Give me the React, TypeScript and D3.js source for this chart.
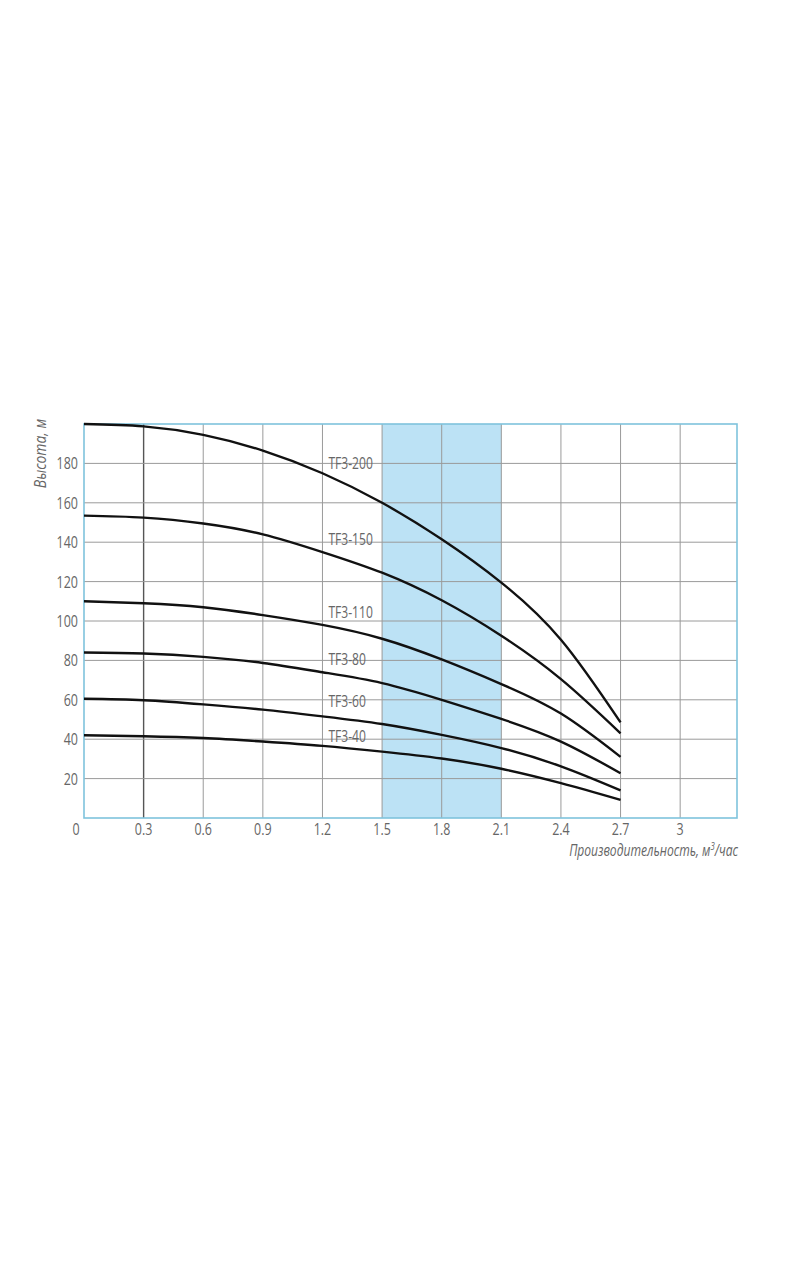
import React, { useEffect, useRef } from 'react';
import * as d3 from 'd3';

const flow = [0, 0.3, 0.6, 0.9, 1.2, 1.5, 1.8, 2.1, 2.4, 2.7];
const seriesNames = ['TF3-200', 'TF3-150', 'TF3-110', 'TF3-80', 'TF3-60', 'TF3-40'];
const head200 = [200, 198.8, 194.5, 186.5, 175, 160, 141.5, 119.5, 90.5, 48.5];
const head150 = [153.5, 152.5, 149.5, 144, 135, 124.5, 110.5, 92.5, 70.5, 43];
const head110 = [110, 109, 107, 103, 98, 91, 80.5, 68, 53, 31];
const head80 = [84, 83.5, 81.8, 78.7, 74, 68.5, 60, 50.3, 38.8, 22.7];
const head60 = [60.5, 59.8, 57.7, 55, 51.6, 47.7, 42.2, 35.5, 26.2, 14];
const head40 = [42, 41.5, 40.6, 38.8, 36.6, 33.7, 30.2, 25, 17.7, 9.2];
const labelX = 1.23;
const labelY = [180, 141.5, 104.3, 80.4, 59, 41.2];
const xTicks = [0, 0.3, 0.6, 0.9, 1.2, 1.5, 1.8, 2.1, 2.4, 2.7, 3];
const xTickLabels = ['0', '0.3', '0.6', '0.9', '1.2', '1.5', '1.8', '2.1', '2.4', '2.7', '3'];
const yTicks = [20, 40, 60, 80, 100, 120, 140, 160, 180];
const band = [1.5, 2.1];

const FONT = "'Open Sans', sans-serif";
const SQUEEZE = 0.78; // narrow the glyphs, the original uses a condensed face

const PumpChart = () => {
  const svgRef = useRef<SVGSVGElement | null>(null);

  useEffect(() => {
    const svg = d3.select(svgRef.current);
    svg.selectAll('*').remove();

    const margin = { top: 424, left: 84 };
    const width = 653;
    const height = 394;

    const g = svg.append('g').attr('transform', `translate(${margin.left},${margin.top})`);

    const x = d3.scaleLinear().domain([0, 3.286]).range([0, width]);
    const y = d3.scaleLinear().domain([0, 200]).range([height, 0]);

    const place = (px: number, py: number) => `translate(${px},${py}) scale(${SQUEEZE},1)`;

    // shaded working range
    g.append('rect')
      .attr('x', x(band[0]))
      .attr('y', 0)
      .attr('width', x(band[1]) - x(band[0]))
      .attr('height', height)
      .attr('fill', '#bce2f5');

    // grid
    g.selectAll('.vgrid')
      .data(xTicks.slice(1))
      .enter()
      .append('line')
      .attr('x1', d => x(d))
      .attr('x2', d => x(d))
      .attr('y1', 0)
      .attr('y2', height)
      .attr('stroke', (d, i) => (i === 0 ? '#555' : '#9a9a9a'))
      .attr('stroke-width', (d, i) => (i === 0 ? 1.4 : 1));

    g.selectAll('.hgrid')
      .data(yTicks)
      .enter()
      .append('line')
      .attr('x1', 0)
      .attr('x2', width)
      .attr('y1', d => y(d))
      .attr('y2', d => y(d))
      .attr('stroke', '#9a9a9a')
      .attr('stroke-width', 1);

    // frame
    g.append('rect')
      .attr('width', width)
      .attr('height', height)
      .attr('fill', 'none')
      .attr('stroke', '#7fc3dc')
      .attr('stroke-width', 1.6);

    // tick labels
    g.selectAll('.ytick')
      .data(yTicks)
      .enter()
      .append('text')
      .attr('transform', d => place(-6, y(d) + 6))
      .attr('text-anchor', 'end')
      .attr('font-family', FONT)
      .attr('font-size', 16)
      .attr('fill', '#666')
      .text(d => d);

    g.selectAll('.xtick')
      .data(xTicks)
      .enter()
      .append('text')
      .attr('transform', (d, i) => place(x(d) - (i === 0 ? 8 : 0), height + 17))
      .attr('text-anchor', 'middle')
      .attr('font-family', FONT)
      .attr('font-size', 16)
      .attr('fill', '#666')
      .text((d, i) => xTickLabels[i]);

    // axis titles
    g.append('text')
      .attr('transform', `translate(-38,${y(185)}) rotate(-90) scale(0.9,1)`)
      .attr('text-anchor', 'middle')
      .attr('font-family', FONT)
      .attr('font-style', 'italic')
      .attr('font-size', 15.5)
      .attr('fill', '#666')
      .text('Высота, м');

    const xt = g.append('text')
      .attr('transform', place(width + 1, height + 38))
      .attr('text-anchor', 'end')
      .attr('font-family', FONT)
      .attr('font-style', 'italic')
      .attr('font-size', 15.5)
      .attr('fill', '#666');
    xt.append('tspan').text('Производительность, м');
    xt.append('tspan').attr('dy', -6).attr('font-size', 10).text('3');
    xt.append('tspan').attr('dy', 6).text('/час');

    // curves
    const series = [head200, head150, head110, head80, head60, head40];
    const line = d3.line<number>()
      .x((d, i) => x(flow[i]))
      .y(d => y(d))
      .curve(d3.curveNatural);

    g.selectAll('.curve')
      .data(series)
      .enter()
      .append('path')
      .attr('fill', 'none')
      .attr('stroke', '#111')
      .attr('stroke-width', 2.4)
      .attr('d', d => line(d));

    g.selectAll('.label')
      .data(seriesNames)
      .enter()
      .append('text')
      .attr('transform', (d, i) => place(x(labelX), y(labelY[i]) + 5.5))
      .attr('font-family', FONT)
      .attr('font-size', 15.5)
      .attr('fill', '#666')
      .text(d => d);
  }, []);

  return <svg ref={svgRef} width={800} height={1286} style={{ position: 'absolute', left: 0, top: 0 }}></svg>;
};

export default function App() {
  return <PumpChart />;
}
